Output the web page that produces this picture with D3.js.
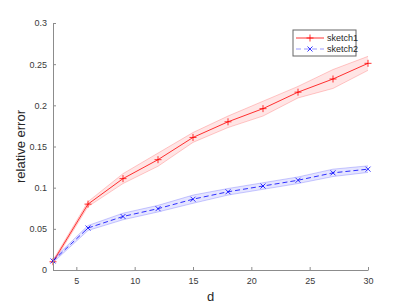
<!DOCTYPE html>
<html>
<head>
<meta charset="utf-8">
<script src="https://cdn.jsdelivr.net/npm/d3@7"></script>
<style>
  html, body { margin: 0; padding: 0; background: #fff; }
  svg { display: block; font-family: "Liberation Sans", Arial, sans-serif; }
</style>
</head>
<body>
<div id="chart"></div>
<script>
const dims = [3, 6, 9, 12, 15, 18, 21, 24, 27, 30]
const sketch1 = [0.010, 0.080, 0.111, 0.134, 0.161, 0.180, 0.196, 0.216, 0.232, 0.251]
const sketch1Err = [0.002, 0.003, 0.006, 0.008, 0.006, 0.007, 0.009, 0.007, 0.0115, 0.0085]
const sketch2 = [0.011, 0.051, 0.065, 0.0745, 0.086, 0.095, 0.102, 0.109, 0.118, 0.1225]
const sketch2Err = [0.002, 0.003, 0.004, 0.004, 0.005, 0.004, 0.004, 0.004, 0.0045, 0.004]
const xTicks = [5, 10, 15, 20, 25, 30]
const yTicks = [0, 0.05, 0.1, 0.15, 0.2, 0.25, 0.3]
const seriesNames = ['sketch1', 'sketch2']

const W = 407, H = 305
const margin = { top: 23, right: 39, bottom: 35, left: 53 }
const width = W - margin.left - margin.right
const height = H - margin.top - margin.bottom

const svg = d3.select('#chart').append('svg')
  .attr('width', W)
  .attr('height', H)

const g = svg.append('g')
  .attr('transform', `translate(${margin.left},${margin.top})`)

const x = d3.scaleLinear().domain([3, 30]).range([0, width])
const y = d3.scaleLinear().domain([0, 0.3]).range([height, 0])

const series = [
  { name: seriesNames[0], vals: sketch1, err: sketch1Err, color: '#ff0000', dash: null, marker: 'plus' },
  { name: seriesNames[1], vals: sketch2, err: sketch2Err, color: '#0000ff', dash: '5,3', marker: 'cross' }
]

const area = d3.area()
  .x(d => x(d.d))
  .y0(d => y(d.v - d.e))
  .y1(d => y(d.v + d.e))

const line = d3.line()
  .x(d => x(d.d))
  .y(d => y(d.v))

const markerPath = (type, s) => type === 'plus'
  ? `M${-s},0H${s}M0,${-s}V${s}`
  : `M${-s},${-s}L${s},${s}M${-s},${s}L${s},${-s}`

series.forEach(s => {
  const pts = dims.map((d, i) => ({ d: d, v: s.vals[i], e: s.err[i] }))
  g.append('path')
    .datum(pts)
    .attr('fill', s.color)
    .attr('fill-opacity', 0.1)
    .attr('stroke', 'none')
    .attr('d', area)
  // band edges
  g.append('path')
    .datum(pts)
    .attr('fill', 'none')
    .attr('stroke', s.color)
    .attr('stroke-opacity', 0.25)
    .attr('stroke-width', 0.8)
    .attr('d', line.y(d => y(d.v + d.e)))
  g.append('path')
    .datum(pts)
    .attr('fill', 'none')
    .attr('stroke', s.color)
    .attr('stroke-opacity', 0.25)
    .attr('stroke-width', 0.8)
    .attr('d', line.y(d => y(d.v - d.e)))
  line.y(d => y(d.v))
  g.append('path')
    .datum(pts)
    .attr('fill', 'none')
    .attr('stroke', s.color)
    .attr('stroke-width', 0.8)
    .attr('stroke-dasharray', s.dash)
    .attr('d', line)
  g.selectAll(null)
    .data(pts)
    .enter()
    .append('path')
    .attr('transform', d => `translate(${x(d.d)},${y(d.v)})`)
    .attr('d', markerPath(s.marker, s.marker === 'plus' ? 3.5 : 2.5))
    .attr('fill', 'none')
    .attr('stroke', s.color)
    .attr('stroke-width', 0.8)
})

// axes, MATLAB style: ticks inside, no box
const xAxis = d3.axisBottom(x).tickValues(xTicks).tickSizeInner(-3).tickSizeOuter(0).tickPadding(8)
const yAxis = d3.axisLeft(y).tickValues(yTicks).tickSizeInner(-3).tickSizeOuter(0).tickPadding(6)
  .tickFormat(d => d3.format('')(+d.toFixed(2)))

const gx = g.append('g')
  .attr('transform', `translate(0,${height})`)
  .call(xAxis)
const gy = g.append('g').call(yAxis)

;[gx, gy].forEach(a => {
  a.select('.domain').attr('stroke', '#8c8c8c')
  a.selectAll('.tick line').attr('stroke', '#8c8c8c')
  a.selectAll('.tick text')
    .attr('fill', '#3a3a3a')
    .attr('font-size', 9)
    .attr('font-family', '"Liberation Sans", Arial, sans-serif')
})

g.append('text')
  .attr('x', width / 2)
  .attr('y', height + 31)
  .attr('text-anchor', 'middle')
  .attr('font-size', 13)
  .attr('fill', '#262626')
  .text('d')

g.append('text')
  .attr('transform', `translate(${-28},${height / 2}) rotate(-90)`)
  .attr('text-anchor', 'middle')
  .attr('font-size', 13)
  .attr('fill', '#262626')
  .text('relative error')

// legend
const legend = svg.append('g').attr('transform', 'translate(293,30)')
legend.append('rect')
  .attr('width', 63)
  .attr('height', 26)
  .attr('fill', '#fff')
  .attr('stroke', '#666')
  .attr('stroke-width', 1)

series.forEach((s, i) => {
  const row = legend.append('g').attr('transform', `translate(0,${8 + i * 11})`)
  row.append('line')
    .attr('x1', 3).attr('x2', 31)
    .attr('stroke', s.color)
    .attr('stroke-opacity', i === 1 ? 0.5 : 1)
    .attr('stroke-width', 0.8)
    .attr('stroke-dasharray', s.dash)
  row.append('path')
    .attr('transform', 'translate(17,0)')
    .attr('d', markerPath(s.marker, s.marker === 'plus' ? 3.5 : 2.5))
    .attr('fill', 'none')
    .attr('stroke', s.color)
    .attr('stroke-width', 0.8)
  row.append('text')
    .attr('x', 34)
    .attr('dy', '0.35em')
    .attr('font-size', 9)
    .attr('fill', '#262626')
    .text(s.name)
})
</script>
</body>
</html>
